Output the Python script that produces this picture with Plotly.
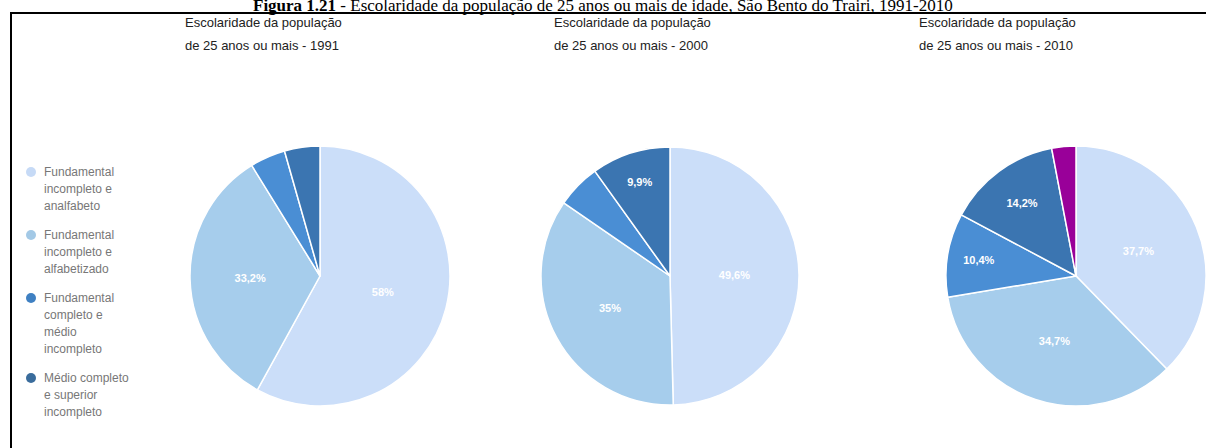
import plotly.graph_objects as go

# Education level categories (legend order)
categories = [
    "Fundamental incompleto e analfabeto",
    "Fundamental incompleto e alfabetizado",
    "Fundamental completo e médio incompleto",
    "Médio completo e superior incompleto",
    "Superior completo",
]
legend_lines = [
    ["Fundamental", "incompleto e", "analfabeto"],
    ["Fundamental", "incompleto e", "alfabetizado"],
    ["Fundamental", "completo e", "médio", "incompleto"],
    ["Médio completo", "e superior", "incompleto"],
]

# Share of the population aged 25+ (%)
years = ["1991", "2000", "2010"]
share_1991 = [58.0, 33.2, 4.4, 4.4]
share_2000 = [49.6, 35.0, 5.5, 9.9]
share_2010 = [37.7, 34.7, 10.4, 14.2, 3.0]

colors = ["#cbdef9", "#a6cdec", "#4a8ed4", "#3b75b1", "#990099"]
legend_colors = ["#c6daf6", "#a3c9e6", "#3f80c2", "#3a6c9c"]

W, H = 1206, 448


def pct_label(v):
    if v < 9:
        return ""
    s = f"{v:.1f}"
    if s.endswith(".0"):
        s = s[:-2]
    return "<b>" + s.replace(".", ",") + "%</b>"


def px_x(x):
    return x / W


def px_y(y):
    return 1 - y / H


fig = go.Figure()

# pie placement: (left, right, top, bottom) in pixels
boxes = [(190, 450, 146, 406), (541, 799, 147, 405), (946, 1206, 146, 406)]
series = [share_1991, share_2000, share_2010]

for vals, (l, r, t, b) in zip(series, boxes):
    fig.add_trace(go.Pie(
        labels=categories[:len(vals)],
        values=vals,
        sort=False,
        direction="clockwise",
        rotation=0,
        marker=dict(colors=colors[:len(vals)], line=dict(color="white", width=1.5)),
        text=[pct_label(v) for v in vals],
        textinfo="text",
        textposition="inside",
        insidetextorientation="horizontal",
        textfont=dict(family="Arial", size=11, color="white"),
        showlegend=False,
        hoverinfo="label+percent",
        domain=dict(x=[px_x(l), px_x(r)], y=[px_y(b), px_y(t)]),
    ))

annotations = []

# chart titles
title_x = [183, 552, 917]
title_font = dict(family="Arial", size=13, color="#222222")
for yr, tx in zip(years, title_x):
    annotations.append(dict(
        x=px_x(tx), y=px_y(22), xref="paper", yref="paper",
        xanchor="left", yanchor="middle", showarrow=False,
        text="Escolaridade da população", font=title_font,
    ))
    annotations.append(dict(
        x=px_x(tx), y=px_y(45), xref="paper", yref="paper",
        xanchor="left", yanchor="middle", showarrow=False,
        text=f"de 25 anos ou mais - {yr}", font=title_font,
    ))

# figure caption along the top edge
annotations.append(dict(
    x=0.5, y=px_y(-6), xref="paper", yref="paper",
    xanchor="center", yanchor="top", showarrow=False,
    text="<b>Figura 1.21</b> - Escolaridade da população de 25 anos ou mais de idade, São Bento do Trairi, 1991-2010",
    font=dict(family="Liberation Serif", size=17, color="black"),
))

shapes = []

# legend: circle + wrapped label
line_h = 17
gap = 12
y = 172
for lines, col in zip(legend_lines, legend_colors):
    shapes.append(dict(
        type="circle", xref="paper", yref="paper",
        x0=px_x(26), x1=px_x(36), y0=px_y(y + 5), y1=px_y(y - 5),
        fillcolor=col, line=dict(color=col, width=0),
    ))
    for i, txt in enumerate(lines):
        annotations.append(dict(
            x=px_x(42), y=px_y(y + i * line_h), xref="paper", yref="paper",
            xanchor="left", yanchor="middle", showarrow=False,
            text=txt, font=dict(family="Arial", size=12, color="#777777"),
        ))
    y += len(lines) * line_h + gap

# frame
shapes.append(dict(
    type="rect", xref="paper", yref="paper",
    x0=px_x(11), x1=px_x(W + 5), y0=px_y(H + 5), y1=px_y(13),
    line=dict(color="black", width=2), fillcolor="rgba(0,0,0,0)",
))

fig.update_layout(
    width=W, height=H,
    margin=dict(l=0, r=0, t=0, b=0),
    paper_bgcolor="white",
    plot_bgcolor="white",
    annotations=annotations,
    shapes=shapes,
)

fig.write_html("out.html")
